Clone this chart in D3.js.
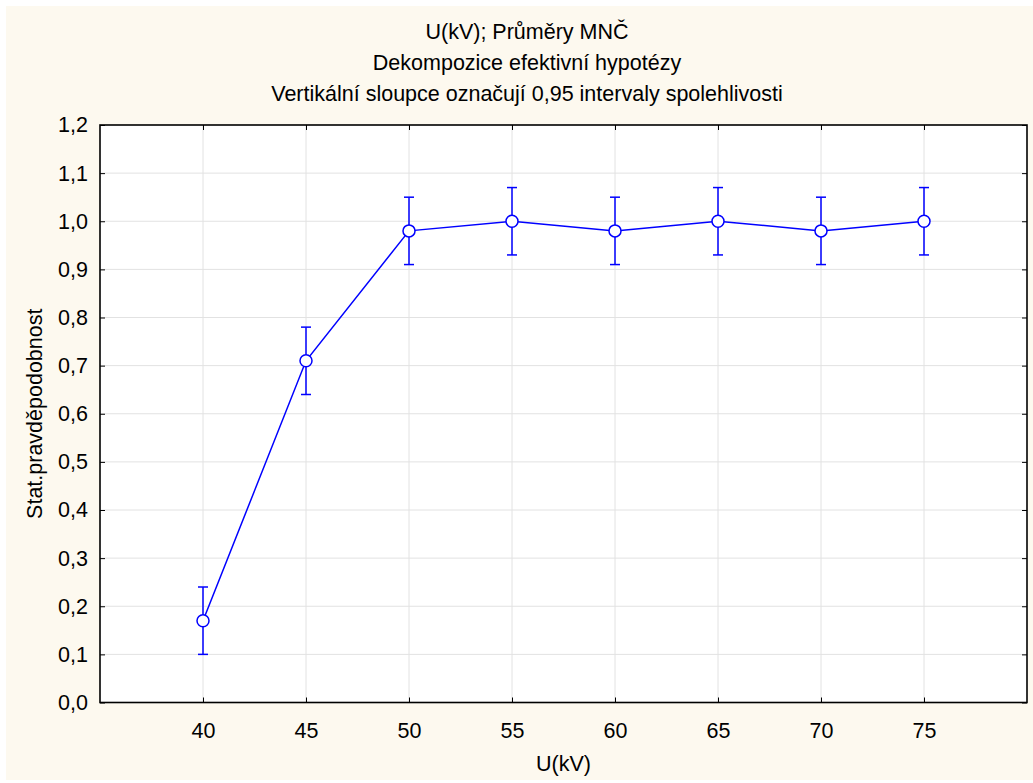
<!DOCTYPE html>
<html>
<head>
<meta charset="utf-8">
<script src="https://cdn.jsdelivr.net/npm/d3@7"></script>
<style>
  body { margin: 0; background: #fff; }
  text { font-family: "Liberation Sans", Arial, sans-serif; fill: #000; }
</style>
</head>
<body>
<div id="chart"></div>
<script>
// data
var voltages = [40, 45, 50, 55, 60, 65, 70, 75];
var means = [0.17, 0.71, 0.98, 1.00, 0.98, 1.00, 0.98, 1.00];
var lowerCI = [0.10, 0.64, 0.91, 0.93, 0.91, 0.93, 0.91, 0.93];
var upperCI = [0.24, 0.78, 1.05, 1.07, 1.05, 1.07, 1.05, 1.07];
var yTicks = [0, 0.1, 0.2, 0.3, 0.4, 0.5, 0.6, 0.7, 0.8, 0.9, 1.0, 1.1, 1.2];
var titleLines = ["U(kV); Průměry MNČ", "Dekompozice efektivní hypotézy", "Vertikální sloupce označují 0,95 intervaly spolehlivosti"];

var W = 1033, H = 783;
var margin = { top: 125, right: 6, bottom: 80, left: 100 };
var width = W - margin.left - margin.right;
var height = H - margin.top - margin.bottom - 0.5;
var fontSize = "21.5px";

var svg = d3.select("#chart").append("svg")
  .attr("width", W).attr("height", H);

// cream background panel
svg.append("rect")
  .attr("x", 6).attr("y", 6)
  .attr("width", W - 6).attr("height", H - 9)
  .attr("fill", "#fdf9ef");

var g = svg.append("g")
  .attr("transform", "translate(" + margin.left + "," + margin.top + ")");

var x = d3.scaleLinear().domain([35, 80]).range([0, width]);
var y = d3.scaleLinear().domain([0, 1.2]).range([height, 0]);

var fmt = function(d) { return d3.format(".1f")(d).replace(".", ","); };

g.append("rect")
  .attr("width", width).attr("height", height)
  .attr("fill", "#fff");

// grid lines
g.append("g").selectAll("line")
  .data(yTicks.slice(1, -1))
  .enter().append("line")
  .attr("x1", 0).attr("x2", width)
  .attr("y1", d => y(d)).attr("y2", d => y(d))
  .attr("stroke", "#e2e2e2").attr("stroke-width", 1);

g.append("g").selectAll("line")
  .data(voltages)
  .enter().append("line")
  .attr("x1", d => x(d)).attr("x2", d => x(d))
  .attr("y1", 0).attr("y2", height)
  .attr("stroke", "#e2e2e2").attr("stroke-width", 1);

// axes with inward ticks
var yAxis = d3.axisLeft(y).tickValues(yTicks).tickFormat(fmt).tickSize(-5).tickPadding(12);
var xAxis = d3.axisBottom(x).tickValues(voltages).tickSize(-5).tickPadding(20);

var ya = g.append("g").call(yAxis);
var xa = g.append("g").attr("transform", "translate(0," + height + ")").call(xAxis);
g.append("g").attr("transform", "translate(" + width + ",0)")
  .call(d3.axisRight(y).tickValues(yTicks).tickSize(-5).tickFormat(""));
g.append("g")
  .call(d3.axisTop(x).tickValues(voltages).tickSize(-5).tickFormat(""));

g.selectAll(".domain").remove();
g.selectAll(".tick line").attr("stroke", "#000");
ya.selectAll("text").style("font-size", fontSize);
xa.selectAll("text").style("font-size", fontSize);

// frame
g.append("rect")
  .attr("width", width).attr("height", height)
  .attr("fill", "none").attr("stroke", "#000").attr("stroke-width", 1.6);

// mean line
var pts = voltages.map((v, i) => [v, means[i]]);
g.append("path")
  .attr("d", d3.line().x(d => x(d[0])).y(d => y(d[1]))(pts))
  .attr("fill", "none").attr("stroke", "#0000ff").attr("stroke-width", 1.5);

// error bars
var bars = g.append("g").attr("stroke", "#0000ff").attr("stroke-width", 1.5);
voltages.forEach(function(v, i) {
  var cx = x(v);
  bars.append("line").attr("x1", cx).attr("x2", cx).attr("y1", y(lowerCI[i])).attr("y2", y(upperCI[i]));
  bars.append("line").attr("x1", cx - 5).attr("x2", cx + 5).attr("y1", y(lowerCI[i])).attr("y2", y(lowerCI[i]));
  bars.append("line").attr("x1", cx - 5).attr("x2", cx + 5).attr("y1", y(upperCI[i])).attr("y2", y(upperCI[i]));
});

// data points
g.selectAll("circle.point")
  .data(pts)
  .enter().append("circle")
  .attr("class", "point")
  .attr("r", 6)
  .attr("cx", d => x(d[0])).attr("cy", d => y(d[1]))
  .attr("fill", "#fff").attr("stroke", "#0000ff").attr("stroke-width", 1.5);

// titles (centred on the whole panel, not on the plot)
svg.selectAll("text.title")
  .data(titleLines)
  .enter().append("text")
  .attr("class", "title")
  .attr("x", 527)
  .attr("y", (d, i) => 39 + i * 31)
  .attr("text-anchor", "middle")
  .style("font-size", fontSize)
  .text(d => d);

svg.append("text")
  .attr("text-anchor", "middle")
  .attr("transform", "translate(" + (margin.left + width / 2) + ",771)")
  .style("font-size", fontSize)
  .text("U(kV)");

svg.append("text")
  .attr("text-anchor", "middle")
  .attr("transform", "translate(42," + (margin.top + height / 2) + ") rotate(-90)")
  .style("font-size", fontSize)
  .text("Stat.pravděpodobnost");
</script>
</body>
</html>
